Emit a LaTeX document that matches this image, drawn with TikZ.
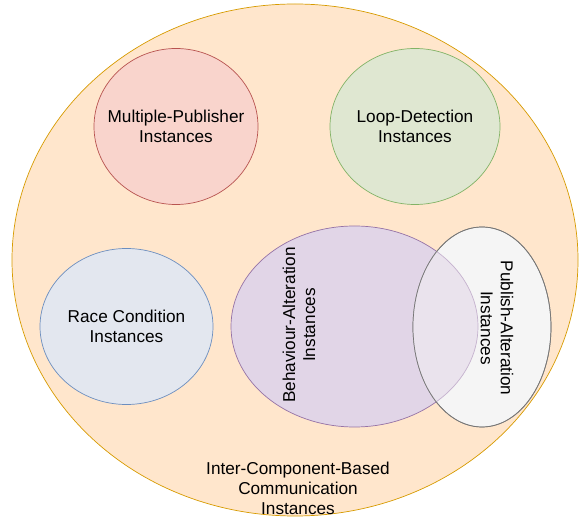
\documentclass[tikz,border=0pt]{standalone}
\usepackage{fontspec}
\setmainfont{Liberation Sans}
\usetikzlibrary{shapes.geometric}
\definecolor{orgFill}{HTML}{FFE6CC}\definecolor{orgLine}{HTML}{D79B00}
\definecolor{redFill}{HTML}{F8CECC}\definecolor{redLine}{HTML}{B85450}
\definecolor{grnFill}{HTML}{D5E8D4}\definecolor{grnLine}{HTML}{82B366}
\definecolor{bluFill}{HTML}{DAE8FC}\definecolor{bluLine}{HTML}{6C8EBF}
\definecolor{purFill}{HTML}{E1D5E7}\definecolor{purLine}{HTML}{9673A6}
\definecolor{gryFill}{HTML}{F5F5F5}\definecolor{gryLine}{HTML}{777777}
\definecolor{mixFill}{HTML}{EAE3ED}
\tikzset{
  set/.style={ellipse, draw, line width=0.7pt, inner sep=0pt, outer sep=0pt},
  settext/.style={align=center, font=\fontsize{17.2}{20}\selectfont, inner sep=0pt}
}
\begin{document}
\begin{tikzpicture}[x=1pt, y=-1pt]
  \useasboundingbox (0,0) rectangle (579,518);
  % outer set
  \node[set, fill=orgFill, draw=orgLine, minimum width=566pt, minimum height=512pt] (icb) at (295,260) {};
  \node[settext] (icbtext) at (298,488) {Inter-Component-Based\\Communication\\Instances};
  % separate sets
  \node[set, fill=redFill, draw=redLine, fill opacity=0.75,
        minimum width=164pt, minimum height=156pt] (mp) at (176,126.5) {};
  \node[settext] (mptext) at (mp) {Multiple-Publisher\\Instances};
  \node[set, fill=grnFill, draw=grnLine, fill opacity=0.75,
        minimum width=170pt, minimum height=156pt] (ld) at (415,126.5) {};
  \node[settext] (ldtext) at (ld) {Loop-Detection\\Instances};
  \node[set, fill=bluFill, draw=bluLine, fill opacity=0.75,
        minimum width=173pt, minimum height=156pt] (rc) at (126.5,326.5) {};
  \node[settext] (rctext) at (rc) {Race Condition\\Instances};
  % overlapping sets
  \node[set, fill=purFill, draw=purLine,
        minimum width=247pt, minimum height=201pt] (ba) at (354.5,326.5) {};
  \node[set, fill=gryFill, draw=gryLine,
        minimum width=138pt, minimum height=200pt] (pa) at (482,327) {};
  % their intersection, with both outlines visible inside it
  \begin{scope}
    \clip (pa.center) ellipse [x radius=69pt, y radius=100pt];
    \fill[mixFill] (ba.center) ellipse [x radius=123.5pt, y radius=100.5pt];
    \draw[purLine!55, line width=0.7pt] (ba.center) ellipse [x radius=123.5pt, y radius=100.5pt];
  \end{scope}
  \draw[gryLine, line width=0.7pt] (pa.center) ellipse [x radius=69pt, y radius=100pt];
  \node[settext, rotate=90] (batext) at (299,325) {Behaviour-Alteration\\Instances};
  \node[settext, rotate=-90] (patext) at (497,328) {Publish-Alteration\\Instances};
\end{tikzpicture}
\end{document}
